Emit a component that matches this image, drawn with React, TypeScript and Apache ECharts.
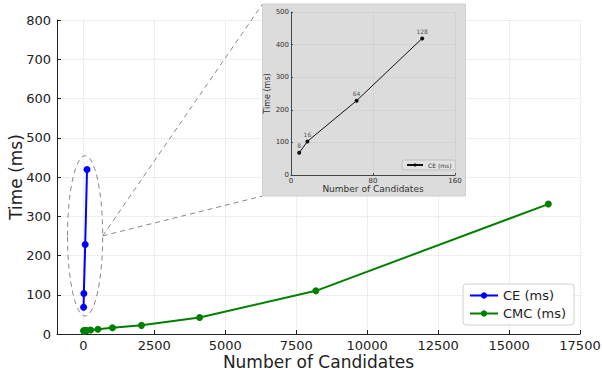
import React, { useEffect, useRef } from "react";
import * as echarts from "echarts";

const ceX = [8, 16, 64, 128];
const ceY = [68, 103, 228, 419];
const cmcX = [8, 16, 32, 64, 128, 256, 512, 1024, 2048, 4096, 8192, 16384];
const cmcY = [8, 8, 8, 9, 9, 10, 12, 16, 22, 42, 110, 331];
const xTicks = [0, 2500, 5000, 7500, 10000, 12500, 15000, 17500];
const FONT = "DejaVu Sans";

export default function App() {
  const ref = useRef<HTMLDivElement>(null);
  useEffect(() => {
    const chart = echarts.init(ref.current!, null, { renderer: "svg" });
    const ce = ceX.map((x, i) => [x, ceY[i]]);
    const cmc = cmcX.map((x, i) => [x, cmcY[i]]);
    const grid0Line = { lineStyle: { color: "#d6d6d6", type: "dotted", width: 0.8 } };
    chart.setOption({
      animation: false,
      textStyle: { fontFamily: FONT },
      grid: [
        { left: 57, top: 20, right: 22, bottom: 36, outerBoundsMode: "none", containLabel: false },
        { left: 291, top: 12, width: 164, height: 163, z: 10, outerBoundsMode: "none", containLabel: false },
      ],
      xAxis: [
        {
          type: "value", gridIndex: 0, min: -930, max: 17500,
          axisLine: { onZero: false, lineStyle: { color: "#222", width: 1 } },
          axisTick: { show: true, inside: true, length: 4, customValues: xTicks, lineStyle: { color: "#222" } },
          axisLabel: { customValues: xTicks, fontSize: 13, color: "#222", margin: 5, fontFamily: FONT, formatter: (v: number) => String(v) },
          splitLine: { show: true, ...grid0Line },
          name: "Number of Candidates", nameLocation: "middle", nameGap: 19, nameMoveOverlap: false,
          nameTextStyle: { fontSize: 17, color: "#222", fontFamily: FONT },
        },
        {
          type: "value", gridIndex: 1, min: 0, max: 160, interval: 80, z: 10,
          axisLine: { onZero: false, lineStyle: { color: "#444", width: 1 } },
          axisTick: { show: true, inside: true, length: 2, lineStyle: { color: "#444" } },
          axisLabel: { fontSize: 7, color: "#333", margin: 2, fontFamily: FONT },
          splitLine: { show: true, lineStyle: { color: "#cbcbcb", width: 0.6 } },
          name: "Number of Candidates", nameLocation: "middle", nameGap: 9,
          nameTextStyle: { fontSize: 9, color: "#333", fontFamily: FONT },
        },
      ],
      yAxis: [
        {
          type: "value", gridIndex: 0, min: 0, max: 800, interval: 100,
          axisLine: { show: true, onZero: false, lineStyle: { color: "#222", width: 1 } },
          axisTick: { show: true, inside: true, length: 4, lineStyle: { color: "#222" } },
          axisLabel: { fontSize: 13, color: "#222", margin: 6, fontFamily: FONT },
          splitLine: { show: true, ...grid0Line },
          name: "Time (ms)", nameLocation: "middle", nameGap: 33, nameMoveOverlap: false,
          nameTextStyle: { fontSize: 17, color: "#222", fontFamily: FONT },
        },
        {
          type: "value", gridIndex: 1, min: 0, max: 500, interval: 100, z: 10,
          axisLine: { show: true, onZero: false, lineStyle: { color: "#444", width: 1 } },
          axisTick: { show: true, inside: true, length: 2, lineStyle: { color: "#444" } },
          axisLabel: { fontSize: 7, color: "#333", margin: 2, fontFamily: FONT },
          splitLine: { show: true, lineStyle: { color: "#cbcbcb", width: 0.6 } },
          name: "Time (ms)", nameLocation: "middle", nameGap: 17,
          nameTextStyle: { fontSize: 8, color: "#333", fontFamily: FONT },
        },
      ],
      legend: [
        {
          data: ["CE (ms)", "CMC (ms)"], orient: "vertical", left: 463, top: 284,
          itemWidth: 28, itemHeight: 8, itemGap: 5, padding: [5, 8, 5, 6],
          borderColor: "#d0d0d0", borderWidth: 1, borderRadius: 3,
          backgroundColor: "rgba(255,255,255,0.85)",
          textStyle: { fontSize: 13, color: "#222", fontFamily: FONT },
        },
        {
          data: ["CE (ms) inset"], left: 402, top: 160, z: 20,
          itemWidth: 16, itemHeight: 4, padding: [2, 4, 2, 4],
          borderColor: "#c0c0c0", borderWidth: 1, borderRadius: 2,
          backgroundColor: "#e2e2e2",
          formatter: () => "CE (ms)",
          textStyle: { fontSize: 6, color: "#333", fontFamily: FONT },
        },
      ],
      series: [
        {
          name: "CE (ms)", type: "line", xAxisIndex: 0, yAxisIndex: 0, data: ce,
          color: "#0000ff", symbol: "circle", symbolSize: 7, lineStyle: { width: 2 }, z: 3,
        },
        {
          name: "CMC (ms)", type: "line", xAxisIndex: 0, yAxisIndex: 0, data: cmc,
          color: "#008000", symbol: "circle", symbolSize: 7, lineStyle: { width: 2 }, z: 3,
        },
        {
          name: "CE (ms) inset", type: "line", xAxisIndex: 1, yAxisIndex: 1, data: ce,
          color: "#111", symbol: "circle", symbolSize: 4, lineStyle: { width: 1 }, z: 12,
          label: {
            show: true, position: "top", distance: 2, fontSize: 6, color: "#555",
            fontFamily: FONT, formatter: (p: any) => String(p.value[0]),
          },
        },
      ],
    });
    const p1 = chart.convertToPixel({ gridIndex: 0 }, [-560, 454]) as number[];
    const p2 = chart.convertToPixel({ gridIndex: 0 }, [680, 46]) as number[];
    const cx = (p1[0] + p2[0]) / 2;
    const cy = (p1[1] + p2[1]) / 2;
    const rx = (p2[0] - p1[0]) / 2;
    const ry = (p2[1] - p1[1]) / 2;
    const box = { x: 262.5, y: 4, w: 203, h: 192 };
    const dash = { stroke: "#888", lineWidth: 1, lineDash: [5, 4], fill: "none" };
    chart.setOption({
      graphic: [
        { type: "rect", z: 5, shape: { x: box.x, y: box.y, width: box.w, height: box.h }, style: { fill: "#dcdcdc", stroke: "#cfcfcf", lineWidth: 1 } },
        { type: "ellipse", z: 4, shape: { cx, cy, rx, ry }, style: dash },
        { type: "line", z: 4, shape: { x1: cx + rx, y1: cy, x2: box.x, y2: box.y }, style: dash },
        { type: "line", z: 4, shape: { x1: cx + rx, y1: cy, x2: box.x, y2: box.y + box.h }, style: dash },
      ],
    });
    return () => chart.dispose();
  }, []);
  return <div ref={ref} style={{ width: 602, height: 370, position: "absolute", left: 0, top: 0 }} />;
}
